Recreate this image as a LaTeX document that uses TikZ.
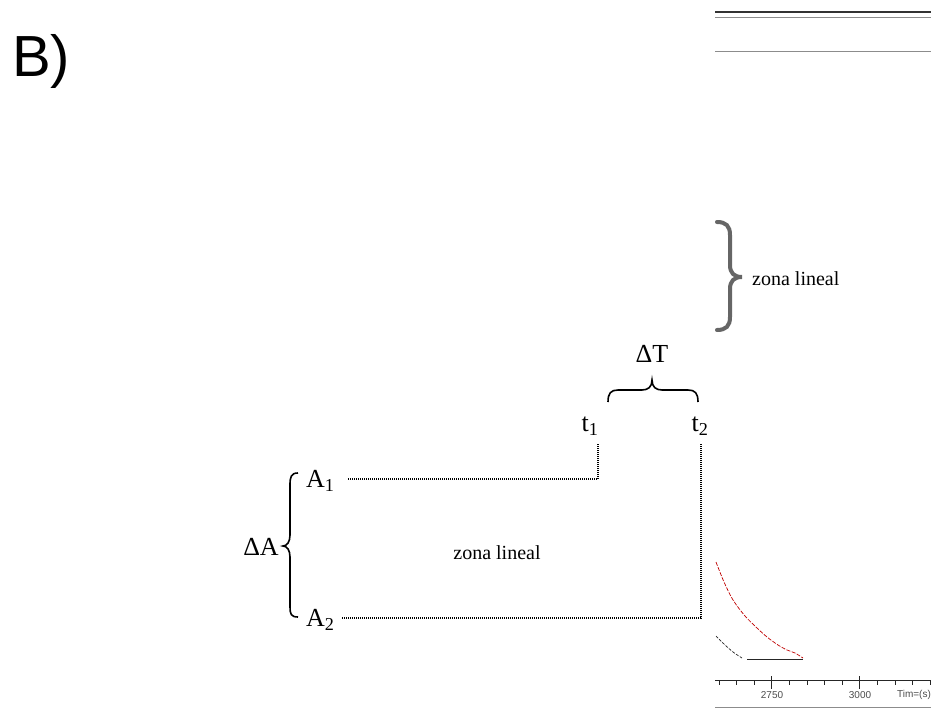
\documentclass[tikz,border=0pt]{standalone}
\usepackage{fontspec}
\setmainfont{Liberation Serif}
\newfontfamily\arialf{Liberation Sans}
\begin{document}
\begin{tikzpicture}[x=1pt,y=-1pt,
  lbl/.style={inner sep=0pt, font=\fontsize{26}{28}\selectfont},
  zl/.style={inner sep=0pt, font=\fontsize{20}{22}\selectfont},
  dotline/.style={line width=1.3pt, dash pattern=on 1pt off 1pt},
  bracel/.style={line width=1.6pt},
  axl/.style={inner sep=0pt, text=black!70, font=\arialf\fontsize{10}{11}\selectfont},
  graylin/.style={black!45, line width=1pt}]
\useasboundingbox (0,0) rectangle (931,709);
% title
\node[inner sep=0pt, anchor=base west, font=\arialf\fontsize{58}{60}\selectfont] (title) at (12,77) {B)};
% top right lines
\draw[black!80, line width=1.2pt] (715,12) -- (931,12);
\draw[graylin] (715,18) -- (931,18);
\draw[graylin] (715,52) -- (931,52);
% right brace
\draw[black!60, line width=4pt, line cap=round] (717,222) .. controls (726,222) and (730,226) .. (730,235) -- (730,265) .. controls (730,273) and (734,277) .. (742,277) .. controls (734,277) and (730,281) .. (730,289) -- (730,317) .. controls (730,326) and (726,330) .. (717,330);
\node[zl, anchor=west] (zl1) at (752,279) {zona lineal};
% Delta T
\node[lbl] (dT) at (652,354) {ΔT};
\draw[bracel] (608,402) .. controls (608,393) and (611,390) .. (618,390) -- (642,390) .. controls (648,390) and (652,387) .. (652,380) .. controls (652,387) and (656,390) .. (662,390) -- (688,390) .. controls (695,390) and (698,393) .. (698,402);
\node[lbl] (t1) at (590,426) {t\textsubscript{1}};
\node[lbl] (t2) at (700,426) {t\textsubscript{2}};
% A labels
\node[lbl, anchor=west] (A1) at (306,481) {A\textsubscript{1}};
\node[lbl, anchor=west] (A2) at (306,620) {A\textsubscript{2}};
\node[lbl] (dA) at (261,547) {ΔA};
\draw[bracel] (298,473) .. controls (291,473) and (290,477) .. (290,485) -- (290,535) .. controls (290,542) and (287,546) .. (283,546) .. controls (287,546) and (290,550) .. (290,557) -- (290,607) .. controls (290,614) and (291,617) .. (298,617);
\node[zl] (zl2) at (497,553) {zona lineal};
% dotted guide lines
\coordinate (k1) at (598,443);
\coordinate (k2) at (701,443);
\coordinate (s1) at (348,479);
\coordinate (s2) at (342,618);
\draw[dotline] (s1) -| (k1);
\draw[dotline] (s2) -| (k2);
% bottom right plot
\draw[red!75!black, line width=0.7pt, dash pattern=on 4pt off 1.5pt] plot[smooth] coordinates {(716,562) (724,582) (733,600) (745,616) (757,628) (767,637) (778,645) (787,650) (795,653) (803,658)};
\draw[black!85, line width=0.7pt, dash pattern=on 3pt off 1.5pt] plot[smooth] coordinates {(716,636) (724,644) (733,652) (742,658)};
\draw[black!85, line width=1pt] (747,659) -- (803,659);
\coordinate (ax0) at (715,680);
\coordinate (ax1) at (931,680);
\draw[black!85, line width=1pt] (ax0) -- (ax1);
\foreach \x in {719,736.6,754.2,789.4,807,824.6,842.2,877.4,895,912.6,930}
  \draw[black!85, line width=0.8pt] (\x,680) -- (\x,685);
\foreach \x in {771.8,859.8}
  \draw[black!85, line width=0.8pt] (\x,676) -- (\x,689);
\node[axl] (l2750) at (772,695) {2750};
\node[axl] (l3000) at (860,695) {3000};
\node[axl] (ltime) at (914,695) {Tim=(s)};
\draw[graylin] (715,707) -- (931,707);
\end{tikzpicture}
\end{document}
